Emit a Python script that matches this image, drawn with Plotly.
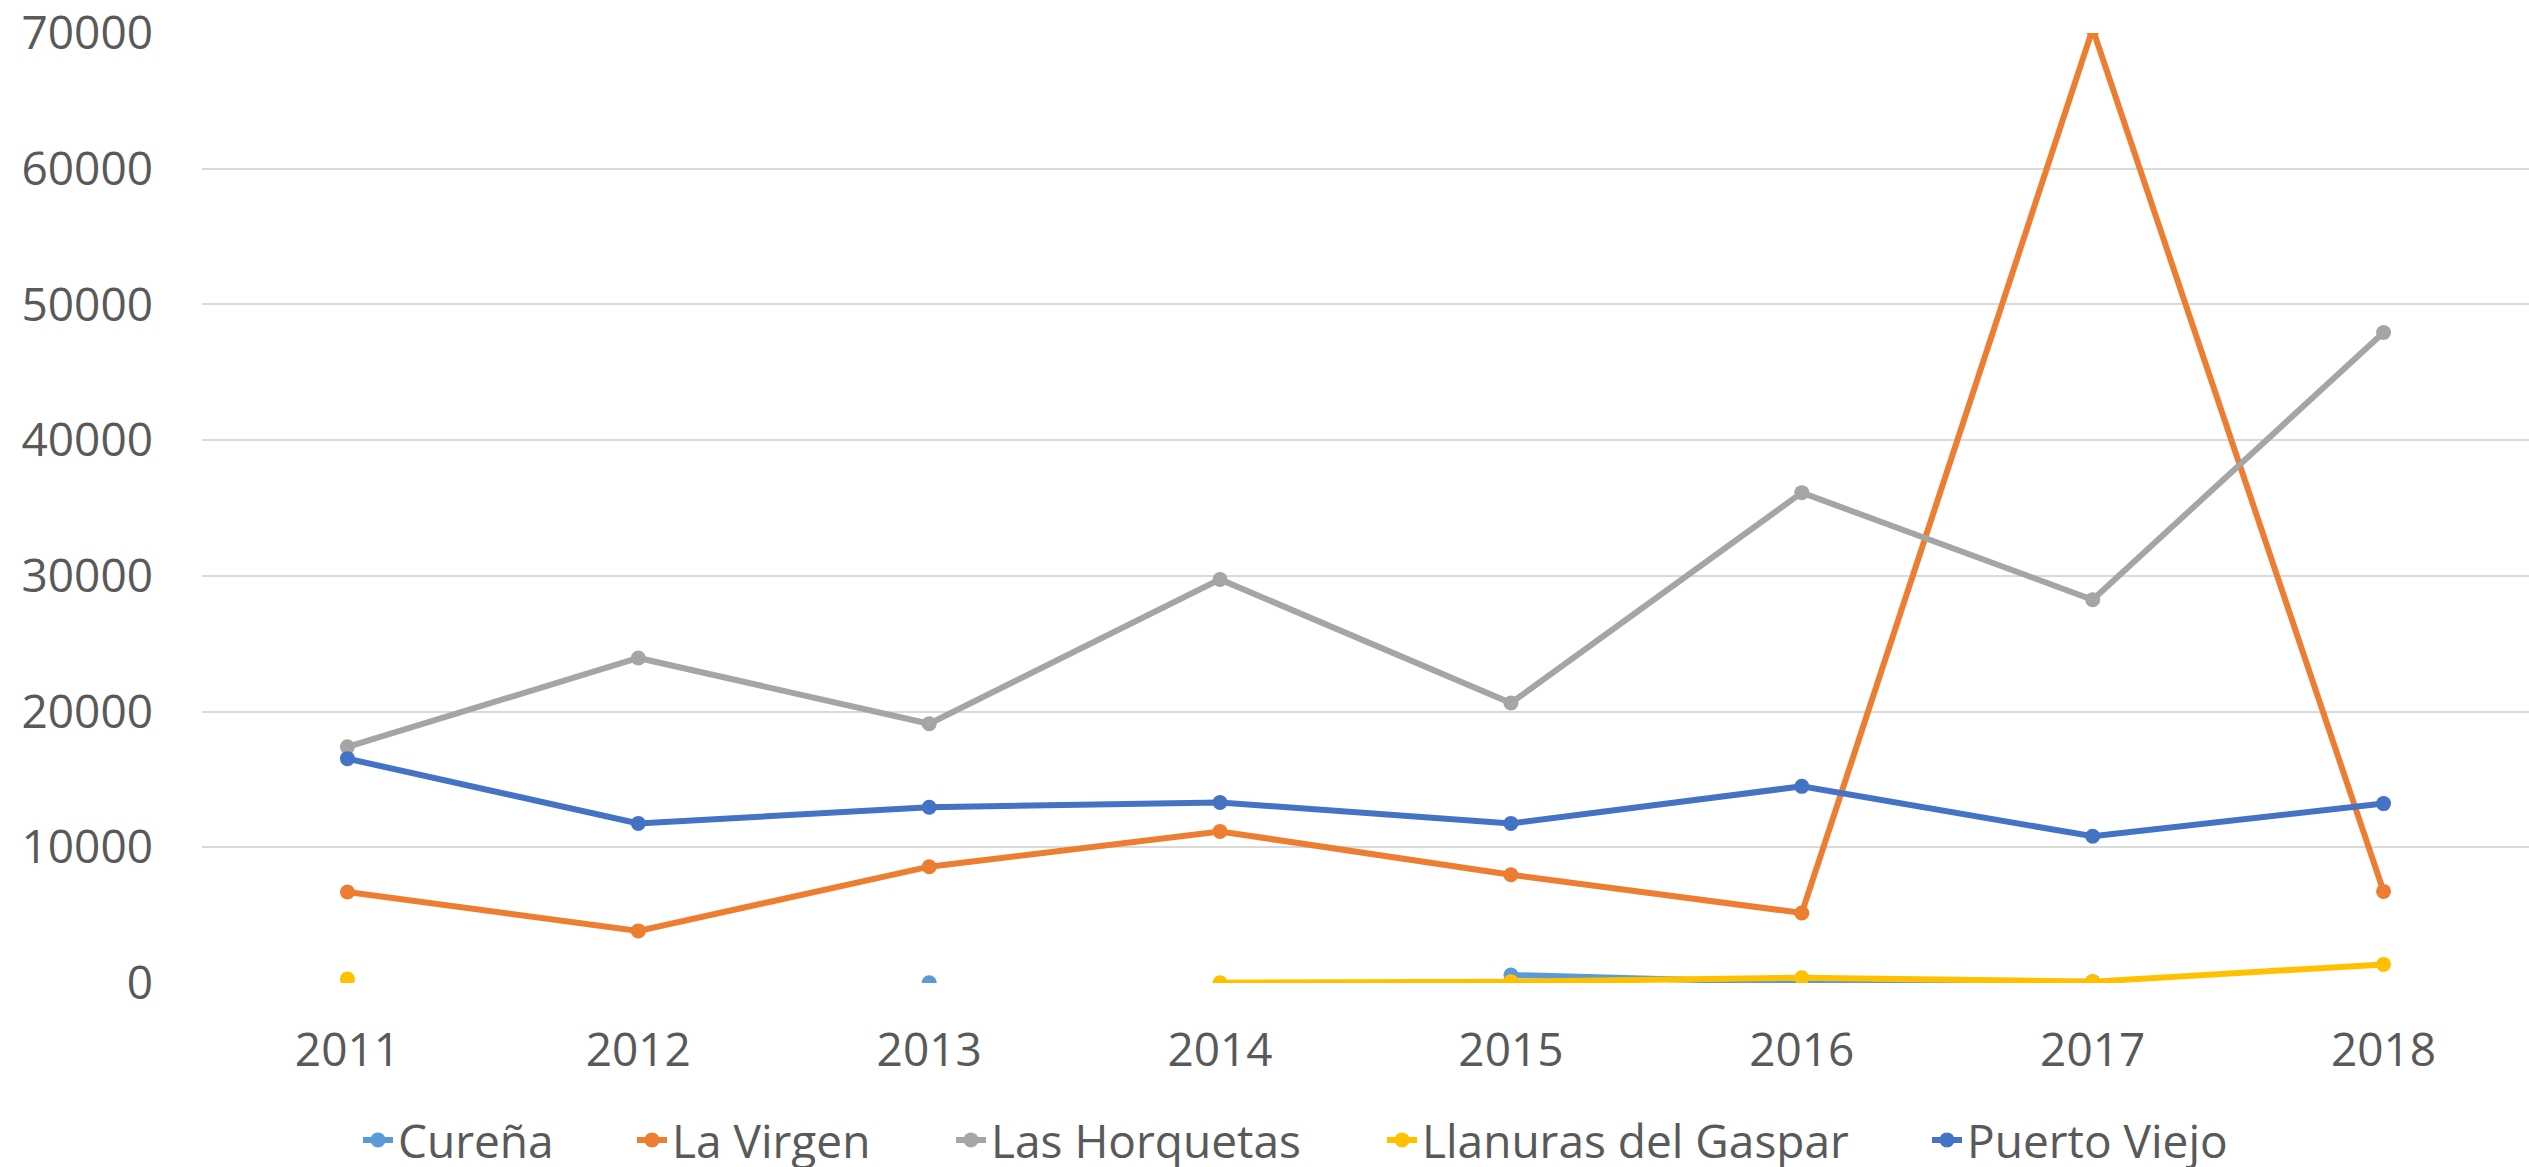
import plotly.graph_objects as go

# Yearly values per district
years = [2011, 2012, 2013, 2014, 2015, 2016, 2017, 2018]
curena = [None, None, 20, None, 590, 20, 100, None]
la_virgen = [6700, 3840, 8570, 11170, 7980, 5160, 70300, 6750]
las_horquetas = [17400, 23950, 19100, 29740, 20630, 36130, 28240, 47930]
llanuras_del_gaspar = [290, None, None, 20, 100, 390, 100, 1370]
puerto_viejo = [16530, 11760, 12950, 13300, 11760, 14490, 10810, 13220]

series_names = ["Cureña", "La Virgen", "Las Horquetas", "Llanuras del Gaspar", "Puerto Viejo"]
series_values = [curena, la_virgen, las_horquetas, llanuras_del_gaspar, puerto_viejo]
series_colors = ["#5B9BD5", "#ED7D31", "#A5A5A5", "#FFC000", "#4472C4"]

y_ticks = [0, 10000, 20000, 30000, 40000, 50000, 60000, 70000]

W, H = 2529, 1167
FONT = "Open Sans"
TEXT_COLOR = "#595959"
FONT_SIZE = 46

# each series gets its own legend box so the entries can be spread out
legend_text_x = [398, 672, 991, 1422, 1967]
legend_ids = ["legend", "legend2", "legend3", "legend4", "legend5"]

fig = go.Figure()
for name, vals, color, lid in zip(series_names, series_values, series_colors, legend_ids):
    fig.add_trace(go.Scatter(
        x=years, y=vals, name=name, mode="lines+markers",
        line=dict(color=color, width=6),
        marker=dict(color=color, size=15),
        legend=lid,
        showlegend=True,
    ))

legend_layouts = {}
for lid, tx in zip(legend_ids, legend_text_x):
    legend_layouts[lid] = dict(
        orientation="h",
        xref="container", yref="container",
        x=(tx - 40) / W, xanchor="left",
        y=1 - 1140 / H, yanchor="middle",
        font=dict(family=FONT, size=FONT_SIZE, color=TEXT_COLOR),
        bgcolor="rgba(0,0,0,0)",
        visible=True,
    )

fig.update_layout(
    width=W, height=H,
    showlegend=True,
    margin=dict(l=202, r=0, t=30, b=184),
    paper_bgcolor="white",
    plot_bgcolor="white",
    font=dict(family=FONT, size=FONT_SIZE, color=TEXT_COLOR),
    xaxis=dict(
        range=[2010.5, 2018.5],
        tickvals=years,
        ticktext=[str(y) for y in years],
        showgrid=False, zeroline=False, showline=False, ticks="",
        tickfont=dict(family=FONT, size=FONT_SIZE, color=TEXT_COLOR),
        ticklabelstandoff=36,
    ),
    yaxis=dict(
        range=[0, 70000],
        tickvals=y_ticks,
        ticktext=[str(v) for v in y_ticks],
        showgrid=True, gridcolor="#D9D9D9", gridwidth=2,
        zeroline=False, showline=False, ticks="",
        tickfont=dict(family=FONT, size=FONT_SIZE, color=TEXT_COLOR),
        ticklabelstandoff=48,
        ticklabeloverflow="allow",
    ),
    **legend_layouts,
)

fig.write_html("out.html")
